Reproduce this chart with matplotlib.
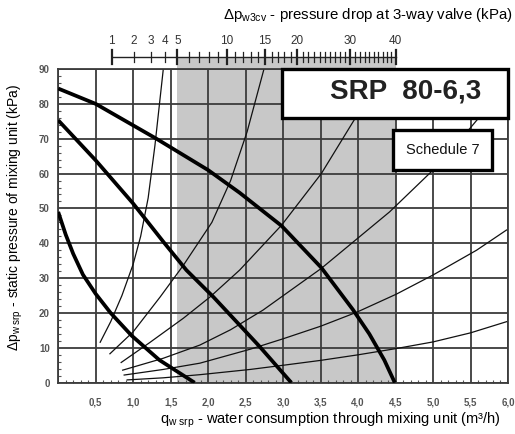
import matplotlib
matplotlib.use("Agg")
import matplotlib.pyplot as plt
import numpy as np
from matplotlib.patches import Rectangle

plt.rcParams['font.family'] = ['Liberation Sans', 'DejaVu Sans']
plt.rcParams['mathtext.fontset'] = 'custom'
plt.rcParams['mathtext.rm'] = 'Liberation Sans'
plt.rcParams['mathtext.it'] = 'Liberation Sans:italic'
plt.rcParams['mathtext.bf'] = 'Liberation Sans:bold'

# pump curves (thick), q in m3/h, dp in kPa
pump1_q = [0, 0.1, 0.2, 0.33, 0.5, 0.7, 0.98, 1.35, 1.82]
pump1_p = [49, 42.5, 37, 31, 25.5, 20, 13.5, 6.5, 0]
pump2_q = [0, 0.5, 1.0, 1.4, 1.71, 2.07, 2.4, 2.69, 3.11]
pump2_p = [75.3, 63.8, 51.4, 40.5, 32.3, 24.6, 17, 10.3, 0]
pump3_q = [0, 0.5, 1.31, 2.0, 2.42, 2.98, 3.51, 3.93, 4.15, 4.35, 4.49]
pump3_p = [84.4, 80, 70, 61, 54.5, 45, 33, 21, 14, 6.5, 0]

# system curves (thin)
sys1_q = [0.56, 0.7, 0.85, 1.0, 1.1, 1.2, 1.29, 1.4]
sys1_p = [11.6, 17.5, 25, 34, 42, 53, 68, 89.6]
sys2_q = [0.69, 1.0, 1.36, 1.67, 2.05, 2.3, 2.52, 2.74]
sys2_p = [8.3, 14.6, 24.6, 33.7, 46, 58, 72, 89.6]
sys3_q = [0.84, 1.22, 1.67, 2.02, 2.42, 2.98, 3.51, 3.96]
sys3_p = [5.8, 11.5, 18.5, 24.5, 32.3, 45.2, 60, 75.8]
sys4_q = [0.86, 1.4, 1.89, 2.3, 2.73, 3.51, 4.42, 5.0, 5.49, 5.63]
sys4_p = [3.6, 7.0, 10.8, 15.2, 20.8, 32.8, 49, 61, 72.9, 76.5]
sys5_q = [0.88, 1.4, 1.89, 2.56, 3.0, 3.5, 3.98, 4.51, 5.0, 5.58, 5.98]
sys5_p = [2.2, 3.8, 5.6, 9.6, 12.6, 16.2, 20.2, 25.4, 30.9, 38, 43.8]
sys6_q = [0.92, 1.4, 1.89, 2.56, 3.0, 3.5, 4.0, 4.51, 5.0, 5.5, 5.98]
sys6_p = [0.8, 1.4, 2.3, 3.8, 5.0, 6.4, 8.0, 9.8, 11.7, 14.3, 17.5]

x_labels = ["", "0,5", "1,0", "1,5", "2,0", "2,5", "3,0", "3,5", "4,0", "4,5", "5,0", "5,5", "6,0"]
y_labels = ["0", "10", "20", "30", "40", "50", "60", "70", "80", "90"]

# 3-way valve scale (kPa)
valve_labels = [1, 2, 3, 4, 5, 10, 15, 20, 30, 40]
valve_long = [1, 5, 10, 15, 20, 30, 40]
valve_ticks = [1, 2, 3, 4] + list(range(5, 41))
valve_max_q = 4.5  # flow where the valve scale reaches 40 kPa


def valve_q(dp):
    return valve_max_q * np.sqrt(np.asarray(dp, dtype=float) / 40.0)


fig = plt.figure(figsize=(5.15, 4.34), dpi=100)
ax = fig.add_axes([0.113, 0.1182, 0.8734, 0.7228])
ax.set_xlim(0, 6)
ax.set_ylim(0, 90)
ax.set_axisbelow(True)

# shaded working range of the valve
q5, q40 = valve_q(5), valve_q(40)
ax.add_patch(Rectangle((q5, 0), q40 - q5, 93.5, facecolor='#c8c8c8',
                       edgecolor='none', clip_on=False, zorder=0))

ax.set_xticks(np.arange(0, 6.01, 0.5))
ax.set_xticklabels(x_labels)
ax.set_yticks(np.arange(0, 91, 10))
ax.set_yticklabels(y_labels)
ax.set_xticks(np.arange(0, 6.01, 0.1), minor=True)
ax.set_yticks(np.arange(0, 91, 2), minor=True)
ax.grid(which='major', color='#3c3c3c', lw=1.3)
ax.tick_params(which='major', length=0, labelsize=7, labelcolor='#555555')
ax.tick_params(axis='x', which='major', pad=11)
ax.tick_params(axis='y', which='major', pad=6)
ax.tick_params(which='minor', direction='in', length=2.5, width=0.8, color='#555555')
for lab in ax.get_xticklabels() + ax.get_yticklabels():
    lab.set_fontweight('bold')
for s in ax.spines.values():
    s.set_color('#3c3c3c')
    s.set_linewidth(1.3)

for q, p in [(sys1_q, sys1_p), (sys2_q, sys2_p), (sys3_q, sys3_p),
             (sys4_q, sys4_p), (sys5_q, sys5_p), (sys6_q, sys6_p)]:
    ax.plot(q, p, color='#111111', lw=0.9, zorder=3)

for q, p in [(pump1_q, pump1_p), (pump2_q, pump2_p), (pump3_q, pump3_p)]:
    ax.plot(q, p, color='black', lw=2.7, zorder=4, solid_capstyle='butt')

# valve scale on top
ax.plot([valve_q(1), valve_q(40)], [93.5, 93.5], color='#222222', lw=1.0,
        clip_on=False)
for v in valve_ticks:
    if v in valve_long:
        ax.plot([valve_q(v)] * 2, [91.5, 95.4], color='#222222', lw=1.6,
                clip_on=False)
    else:
        ax.plot([valve_q(v)] * 2, [92.0, 94.9], color='#222222', lw=0.9,
                clip_on=False)
for v in valve_labels:
    ax.text(valve_q(v), 98.1, str(v), ha='center', va='center', fontsize=8.5,
            color='#333333', clip_on=False)

# title boxes
ax.add_patch(Rectangle((2.99, 76), 3.01, 14, facecolor='white',
                       edgecolor='black', lw=2.4, zorder=5, clip_on=False))
ax.text(4.64, 83.6, "SRP  80-6,3", ha='center', va='center', fontsize=20,
        fontweight='bold', color='#222222', zorder=6)
ax.add_patch(Rectangle((4.47, 61.1), 1.31, 11.5, facecolor='white',
                       edgecolor='black', lw=2.4, zorder=5))
ax.text(5.13, 66.7, "Schedule 7", ha='center', va='center', fontsize=10.5,
        color='#111111', zorder=6)

fig.text(0.714, 0.965, r"Δp$_{\mathrm{w3cv}}$ - pressure drop at 3-way valve (kPa)",
         ha='center', va='center', fontsize=10.8)
fig.text(0.641, 0.031, r"q$_{\mathrm{w\ srp}}$ - water consumption through mixing unit (m³/h)",
         ha='center', va='center', fontsize=10.5)
fig.text(0.029, 0.498, r"Δp$_{\mathrm{w\ srp}}$ - static pressure of mixing unit (kPa)",
         ha='center', va='center', rotation=90, fontsize=10)

fig.savefig("out.png", dpi=100)
